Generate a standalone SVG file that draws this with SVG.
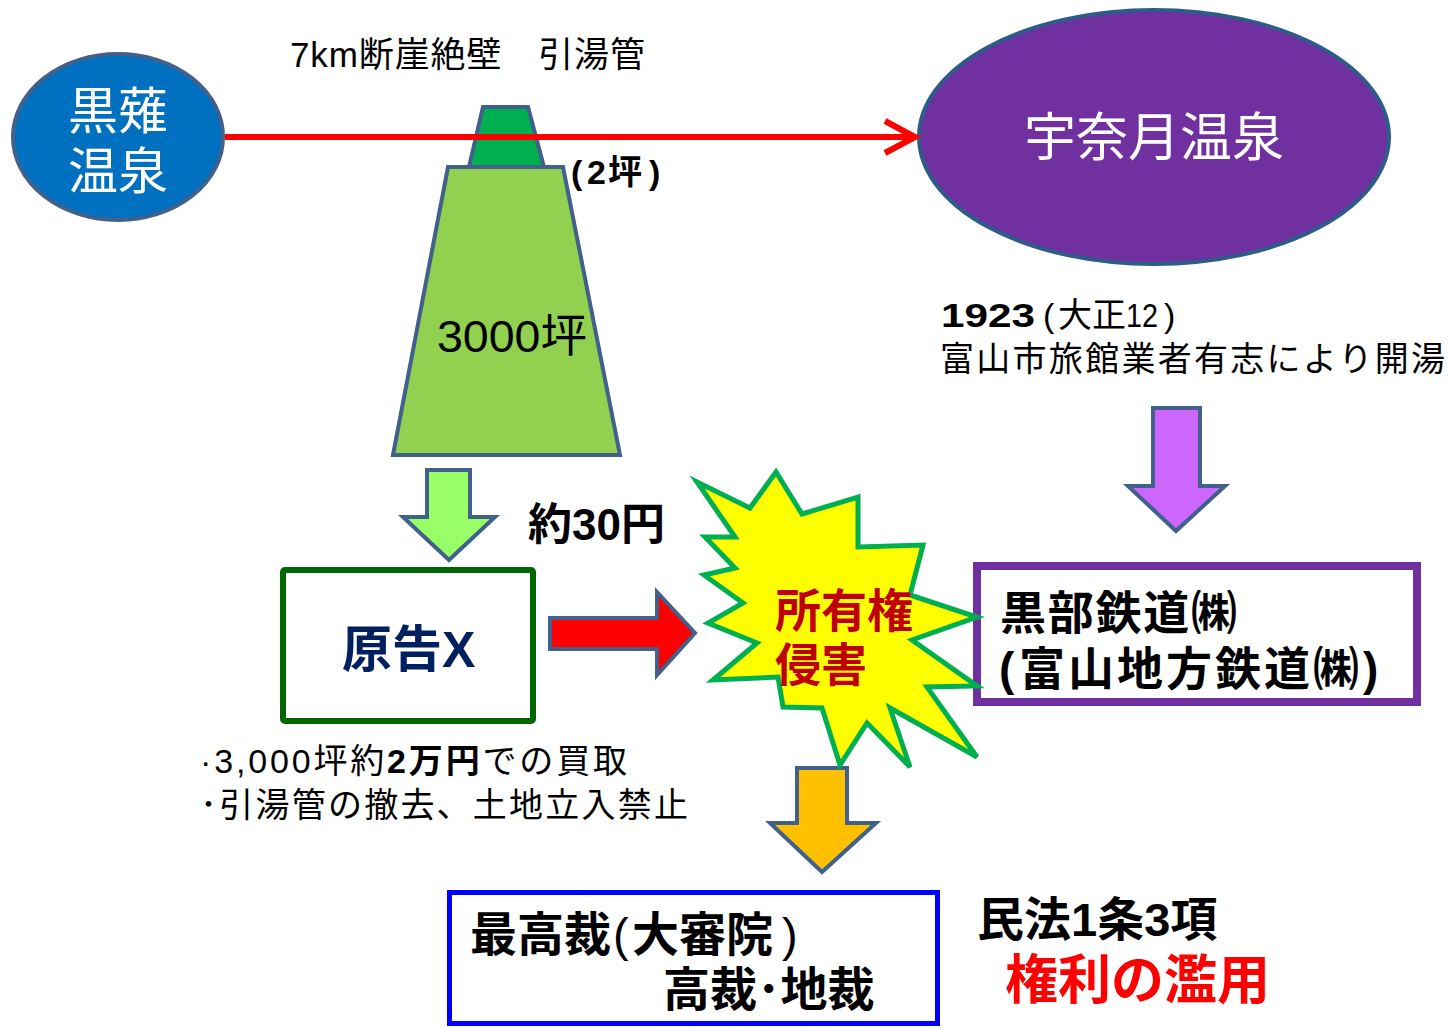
<svg xmlns="http://www.w3.org/2000/svg" width="1451" height="1028" viewBox="0 0 1451 1028">
<style>
text{font-family:"Liberation Sans","Noto Sans CJK JP",sans-serif;}
.b{font-weight:bold;}
.n{font-weight:normal;}
.edge{stroke:#41608C;stroke-width:4;stroke-linejoin:miter;}
.wt{fill:#FFFFFF;}
.bk{fill:#000000;}
</style>
<rect x="0" y="0" width="1451" height="1028" fill="#FFFFFF"/>

<g id="mountain">
<polygon class="edge" points="448,167 563,167 620,455 393,455" fill="#92D050" stroke-linejoin="round"/>
<polygon class="edge" points="483,107 528,107 544,167 469,167" fill="#00B050" stroke-linejoin="round"/>
<text x="437" y="352" font-size="45" class="bk" textLength="150" lengthAdjust="spacingAndGlyphs">3000坪</text>
<text y="184" font-size="34" class="b bk"><tspan x="571">(</tspan><tspan x="587">2</tspan><tspan x="608">坪</tspan><tspan x="649">)</tspan></text>
</g>

<g id="kuronagi">
<ellipse cx="118" cy="137" rx="105" ry="83" fill="#0070C0" class="edge"/>
<text x="68" y="129" font-size="50" class="wt">黒薙</text>
<text x="68" y="189" font-size="50" class="wt">温泉</text>
</g>

<g id="unazuki">
<ellipse cx="1154" cy="137" rx="235" ry="127" fill="#7030A0" stroke="#2E5C8A" stroke-width="4"/>
<text x="1154" y="156" font-size="52" class="wt" text-anchor="middle">宇奈月温泉</text>
</g>

<g id="pipe-label">
<text x="290" y="67" font-size="35" class="bk" textLength="355" lengthAdjust="spacing">7km断崖絶壁　引湯管</text>
</g>

<g id="opening">
<text y="327" font-size="34" class="bk"><tspan x="941" class="b" textLength="94" lengthAdjust="spacingAndGlyphs">1923</tspan><tspan x="1043">(</tspan><tspan x="1058">大正</tspan><tspan x="1126" textLength="32" lengthAdjust="spacingAndGlyphs">12</tspan><tspan x="1164">)</tspan></text>
<text x="940" y="371" font-size="34" class="bk" textLength="505" lengthAdjust="spacing">富山市旅館業者有志により開湯</text>
</g>

<g id="connectors">
<line x1="225" y1="137" x2="913" y2="137" stroke="#FF0000" stroke-width="6"/>
<polyline points="885,121 915,137 885,153" fill="none" stroke="#FF0000" stroke-width="6"/>
<polygon class="edge" points="427,470 470,470 470,517 495,517 449,560 403,517 427,517" fill="#99FF66"/>
<polygon class="edge" points="550,618 657,618 657,592 695,633 657,675 657,649 550,649" fill="#FF0000"/>
<polygon class="edge" points="1153,408 1200,408 1200,486 1225,486 1176,531 1128,486 1153,486" fill="#CC66FF"/>
<polygon class="edge" points="797,768 847,768 847,823 876,823 822,872 770,823 797,823" fill="#FFC000"/>
</g>

<g id="price">
<text x="528" y="540" font-size="44" class="b bk">約30円</text>
</g>

<g id="plaintiff">
<rect x="283" y="570" width="250" height="151" rx="2" fill="#FFFFFF" stroke="#006600" stroke-width="6"/>
<text x="342" y="667" font-size="50" class="b" fill="#002060">原告X</text>
</g>

<g id="plaintiff-notes">
<text x="200" y="773" font-size="34" class="bk" textLength="427" lengthAdjust="spacing">·3,000坪約<tspan class="b">2万円</tspan>での買取</text>
<text x="200" y="817" font-size="34" class="bk" textLength="488" lengthAdjust="spacing">･引湯管の撤去、土地立入禁止</text>
</g>

<g id="railway">
<rect x="977" y="566" width="440" height="136" fill="#FFFFFF" stroke="#7030A0" stroke-width="8"/>
<text x="1000" y="629" font-size="46" class="b bk" textLength="237" lengthAdjust="spacing">黒部鉄道㈱</text>
<text y="685" font-size="46" class="b bk"><tspan x="999">(</tspan><tspan x="1019" textLength="340" lengthAdjust="spacing">富山地方鉄道㈱</tspan><tspan x="1363">)</tspan></text>
</g>

<g id="infringement">
<polygon points="697,482 750,508 776,472 802,514 858,497 858,547 923,545 910,595 977,617 912,640 977,686 927,687 977,757 890,708 910,767 867,723 840,765 822,708 783,707 778,677 713,680 757,643 708,623 743,603 704,575 735,568 705,537 735,537" fill="#FFFF00" stroke="#00B050" stroke-width="5" stroke-linejoin="miter"/>
<text x="775" y="627" font-size="46" class="b" fill="#C00000">所有権</text>
<text x="775" y="681" font-size="46" class="b" fill="#C00000">侵害</text>
</g>

<g id="court">
<rect x="449.5" y="892.5" width="488" height="131" fill="#FFFFFF" stroke="#0000FF" stroke-width="5"/>
<text y="951" font-size="47" class="b bk"><tspan x="470">最高裁</tspan><tspan x="613" class="n">(</tspan><tspan x="632">大審院</tspan><tspan x="782" class="n">)</tspan></text>
<text x="663" y="1006" font-size="47" class="b bk">高裁･地裁</text>
</g>

<g id="law">
<text x="977" y="936" font-size="47" class="b bk">民法1条3項</text>
<text x="1005" y="999" font-size="53" class="b" fill="#FF0000">権利の濫用</text>
</g>
</svg>
